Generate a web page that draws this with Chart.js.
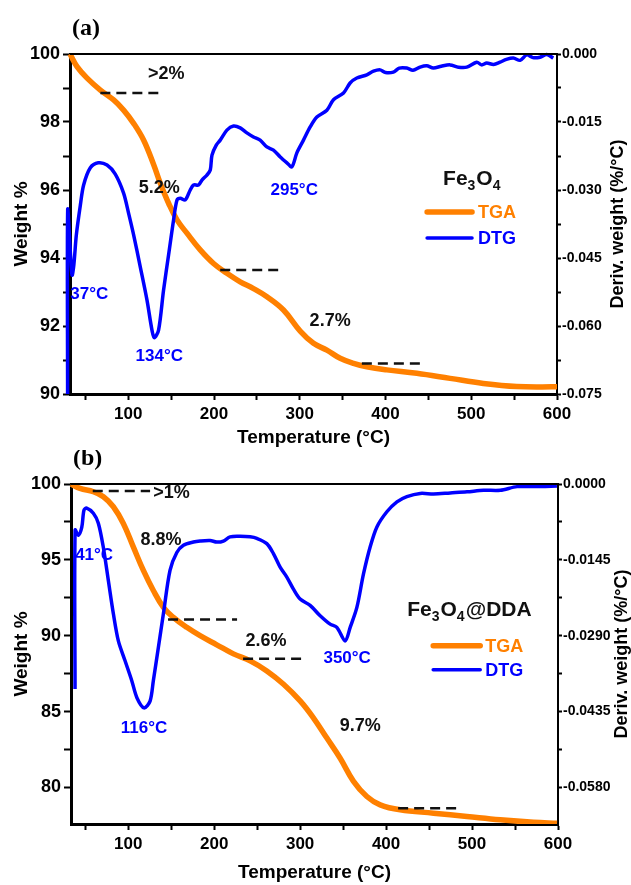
<!DOCTYPE html>
<html>
<head>
<meta charset="utf-8">
<script src="https://cdn.jsdelivr.net/npm/chart.js@4.4.1/dist/chart.umd.min.js"></script>
<style>
  html, body { margin: 0; padding: 0; background: #fff; }
  body { position: relative; width: 631px; height: 885px; overflow: hidden; }
  canvas { position: absolute; left: 0; }
</style>
</head>
<body>
<canvas id="chartA" width="631" height="455" style="top:0;width:631px;height:455px"></canvas>
<canvas id="chartB" width="631" height="435" style="top:450px;width:631px;height:435px"></canvas>
<script>
const ORANGE = '#ff8000'
const BLUE = '#0000ff'
const FONT = "'Liberation Sans', Arial, sans-serif"

// temperature axis, shared by both panels
const tempTicks = [50, 100, 150, 200, 250, 300, 350, 400, 450, 500, 550, 600]
const tempLabels = ['', '100', '', '200', '', '300', '', '400', '', '500', '', '600']

// (a) Fe3O4 : [temperature, weight %] and [temperature, deriv. weight]
const aTGA = [[32, 100], [40.2, 99.63], [51.9, 99.29], [67.4, 98.94], [82.9, 98.65], [94.5, 98.35],
  [106.2, 97.96], [117.8, 97.47], [129.5, 96.75], [137.3, 96.2], [147, 95.61], [156.8, 95.12],
  [168.4, 94.73], [183.9, 94.24], [199.4, 93.84], [215, 93.55], [230.5, 93.3], [246, 93.1],
  [261.7, 92.86], [281, 92.47], [300.5, 91.85], [316, 91.49], [331.6, 91.29], [347.1, 91.05],
  [362.6, 90.9], [378.2, 90.8], [401.5, 90.71], [436.5, 90.61], [475.3, 90.46], [514.1, 90.31],
  [553, 90.22], [600, 90.21]]
const aDTG = [[29.2, -0.075], [29.3, -0.0344], [32.5, -0.044], [34.4, -0.0488], [36.5, -0.0465],
  [39.4, -0.0399], [44.1, -0.0333], [47.9, -0.0289], [55.7, -0.0251], [65, -0.024], [75.2, -0.0245],
  [84.8, -0.0265], [94.5, -0.0307], [100.3, -0.0351], [106.2, -0.0399], [114, -0.047], [121.8, -0.0543],
  [127.6, -0.0609], [130.3, -0.0626], [135.3, -0.0609], [141.1, -0.0521], [147, -0.0443],
  [152.8, -0.0366], [156.8, -0.0322], [160.6, -0.0318], [166.4, -0.0322], [172.2, -0.03],
  [176.1, -0.0289], [181.9, -0.0289], [185.9, -0.0278], [191.7, -0.0267], [195.6, -0.0256],
  [197.6, -0.0223], [202.6, -0.0201], [207.2, -0.019], [215, -0.0168], [222.7, -0.0159],
  [230.5, -0.0163], [238.3, -0.0174], [246, -0.0183], [253.8, -0.019], [261.6, -0.0205],
  [269.3, -0.0212], [277.2, -0.0227], [285, -0.024], [290.8, -0.0249], [296.6, -0.0218],
  [304.3, -0.019], [312.1, -0.0161], [319.9, -0.0139], [331.6, -0.0124], [339.3, -0.0101],
  [351, -0.0086], [358.7, -0.0064], [366.5, -0.0053], [378.2, -0.0046], [386, -0.0038],
  [393.7, -0.0035], [400, -0.0041], [409.2, -0.004], [416, -0.0031], [424.8, -0.0031],
  [432, -0.0036], [440.3, -0.0029], [448, -0.0026], [455.8, -0.0031], [465, -0.0027],
  [475.3, -0.0024], [485, -0.0029], [494.8, -0.0029], [506.4, -0.0018], [512, -0.0024],
  [518, -0.002], [526, -0.0023], [533.6, -0.0018], [541, -0.0012], [549.1, -0.0009],
  [557, -0.0014], [564.7, -0.0002], [572, -0.0008], [580.2, -0.0007], [588, -0.0001], [595.7, -0.0009]]
const aWeightTicks = [90, 91, 92, 93, 94, 95, 96, 97, 98, 99, 100]
const aWeightLabels = ['90', '', '92', '', '94', '', '96', '', '98', '', '100']
const aDerivTicks = [0, -0.0075, -0.015, -0.0225, -0.03, -0.0375, -0.045, -0.0525, -0.06, -0.0675, -0.075]
const aDerivLabels = ['0.000', '', '-0.015', '', '-0.030', '', '-0.045', '', '-0.060', '', '-0.075']
// dashed guides: [from T, to T, weight %]
const aSteps = [[67.4, 135, 98.85], [207.2, 274.8, 93.65], [372.4, 440.3, 90.9]]
const aLosses = [['>2%', 144.3, 99.41], ['5.2%', 136.1, 96.06], ['2.7%', 335.4, 92.15]]
const aPeaks = [['37°C', 54.5, 92.94], ['134°C', 136.1, 91.12], ['295°C', 293.5, 96.0]]

// (b) Fe3O4@DDA
const bTGA = [[33.4, 100], [43.9, 99.71], [59.4, 99.49], [71.1, 99.16], [82.7, 98.5], [94.3, 97.4],
  [105.9, 95.85], [117.6, 94.3], [129.2, 92.98], [140.9, 91.87], [152.5, 91.21], [168.1, 90.55],
  [183.6, 90.0], [203, 89.4], [222.4, 88.8], [241.8, 88.34], [261.2, 87.68], [280.7, 86.8],
  [300, 85.7], [315.6, 84.57], [331.1, 83.25], [346.6, 81.92], [362.1, 80.4], [377.6, 79.4],
  [393.1, 78.85], [416.4, 78.52], [455.2, 78.3], [494, 78.08], [532.8, 77.86], [571.6, 77.7], [598.9, 77.64]]
const bDTG = [[38.1, -0.0392], [38.2, -0.0088], [41.9, -0.0098], [45.9, -0.0083], [48.5, -0.005],
  [51.7, -0.0046], [59.4, -0.0056], [65.2, -0.0075], [71, -0.0121], [76.8, -0.0184], [82.7, -0.0248],
  [88.5, -0.03], [96.3, -0.0338], [104.1, -0.0376], [110.2, -0.0409], [118.4, -0.0428],
  [125.4, -0.0415], [129.2, -0.0376], [135, -0.0313], [140.9, -0.0248], [148.6, -0.0165],
  [156.5, -0.0131], [164.2, -0.0117], [175.8, -0.0111], [183.6, -0.0109], [195.2, -0.0108],
  [203, -0.0111], [210.7, -0.0109], [218.5, -0.0101], [230.2, -0.01], [241.8, -0.0101],
  [249.6, -0.0104], [261.2, -0.0114], [268.9, -0.0133], [276.7, -0.0159], [284.5, -0.0178],
  [292.2, -0.0201], [300, -0.022], [311.6, -0.0232], [323.3, -0.0252], [334.9, -0.0268],
  [342.7, -0.0274], [352.4, -0.03], [358.2, -0.0274], [366, -0.0236], [373.7, -0.0172],
  [381.5, -0.012], [389.3, -0.0082], [400.9, -0.0053], [412.6, -0.0034], [424.2, -0.0024],
  [439.7, -0.0018], [455.2, -0.0019], [474.6, -0.0017], [494.1, -0.0015], [513.4, -0.0012],
  [532.8, -0.0012], [552.3, -0.0005], [571.6, -0.0005], [598.8, -0.0004]]
const bWeightTicks = [80, 82.5, 85, 87.5, 90, 92.5, 95, 97.5, 100]
const bWeightLabels = ['80', '', '85', '', '90', '', '95', '', '100']
const bDerivTicks = [0, -0.00725, -0.0145, -0.02175, -0.029, -0.03625, -0.0435, -0.05075, -0.058]
const bDerivLabels = ['0.0000', '', '-0.0145', '', '-0.0290', '', '-0.0435', '', '-0.0580']
const bSteps = [[58.7, 125.4, 99.54], [146.3, 226.6, 91.06], [233.6, 302.3, 88.48], [414, 484, 78.63]]
const bLosses = [['>1%', 150.4, 99.4], ['8.8%', 138.2, 96.29], ['2.6%', 260.4, 89.67], ['9.7%', 369.9, 84.04]]
const bPeaks = [['41°C', 60.3, 95.3], ['116°C', 118.4, 83.91], ['350°C', 354.7, 88.48]]

const sketch = {
  id: 'sketch',
  afterDatasetsDraw (chart, args, o) {
    const { ctx, chartArea: area, scales: { x, y } } = chart
    const px = t => x.getPixelForValue(t)
    const py = w => y.getPixelForValue(w)
    ctx.save()
    ctx.strokeStyle = '#000'
    ctx.lineWidth = 2
    ctx.beginPath()
    ctx.moveTo(area.left, area.top)
    ctx.lineTo(area.right + 1, area.top)
    ctx.stroke()
    // dashed guides
    ctx.setLineDash([10, 6])
    ctx.lineWidth = 2.5
    ctx.strokeStyle = '#111'
    for (const [t0, t1, w] of o.steps) {
      ctx.beginPath()
      ctx.moveTo(px(t0), py(w))
      ctx.lineTo(px(t1), py(w))
      ctx.stroke()
    }
    ctx.setLineDash([])
    ctx.textAlign = 'center'
    ctx.textBaseline = 'middle'
    ctx.fillStyle = '#111'
    ctx.font = `bold 18px ${FONT}`
    for (const [txt, t, w] of o.losses) ctx.fillText(txt, px(t), py(w))
    ctx.fillStyle = BLUE
    ctx.font = `bold 17px ${FONT}`
    for (const [txt, t, w] of o.peaks) ctx.fillText(txt, px(t), py(w))
    // sample name with subscripts
    ctx.textAlign = 'left'
    ctx.fillStyle = '#111'
    let cx = px(o.name.t)
    const cy = py(o.name.w)
    for (const [txt, sub] of o.name.parts) {
      ctx.font = sub ? `bold 14px ${FONT}` : `bold 21px ${FONT}`
      ctx.fillText(txt, cx, cy + (sub ? 7 : 0))
      cx += ctx.measureText(txt).width + (sub ? 1 : 0)
    }
    // legend
    const lg = o.legend
    const rows = [['TGA', ORANGE, 5.5, lg.w[0]], ['DTG', BLUE, 3.5, lg.w[1]]]
    for (const [txt, col, lw, w] of rows) {
      ctx.strokeStyle = col
      ctx.lineWidth = lw
      ctx.lineCap = 'round'
      ctx.beginPath()
      ctx.moveTo(px(lg.t0), py(w))
      ctx.lineTo(px(lg.t1), py(w))
      ctx.stroke()
      ctx.fillStyle = col
      ctx.font = `bold 18px ${FONT}`
      ctx.fillText(txt, px(lg.tText), py(w) + 1)
    }
    // panel tag
    ctx.fillStyle = '#000'
    ctx.font = "bold 24px 'Liberation Serif', 'Times New Roman', serif"
    ctx.fillText(o.tag, area.left + 2, area.top - 25)
    // right axis title, reading upwards
    ctx.translate(area.right + o.titleGap, (area.top + area.bottom) / 2)
    ctx.rotate(-Math.PI / 2)
    ctx.textAlign = 'center'
    ctx.font = `bold 18px ${FONT}`
    ctx.fillText('Deriv. weight (%/°C)', 0, 0)
    ctx.restore()
  }
}

function makeChart (canvas, p) {
  const tickFont = size => ({ family: FONT, size: size, weight: 'bold' })
  const grid = { drawOnChartArea: false, drawTicks: true, tickLength: 6, tickWidth: 2, tickColor: '#000' }
  return new Chart(canvas, {
    type: 'line',
    data: {
      datasets: [
        { label: 'DTG', data: p.dtg.map(([x, y]) => ({ x, y })), yAxisID: 'y2', order: 0,
          borderColor: BLUE, borderWidth: 3.5, pointRadius: 0, tension: 0.3, clip: false },
        { label: 'TGA', data: p.tga.map(([x, y]) => ({ x, y })), yAxisID: 'y', order: 1,
          borderColor: ORANGE, borderWidth: 5.5, pointRadius: 0, tension: 0.4 }
      ]
    },
    options: {
      responsive: false,
      animation: false,
      events: [],
      layout: { padding: { top: p.top, left: 0, right: 0, bottom: 0 } },
      plugins: { legend: { display: false }, tooltip: { enabled: false }, sketch: p.notes },
      scales: {
        x: {
          type: 'linear', bounds: 'data',
          // range set here (not via min) so the DTG start just left of the axis is still drawn
          afterDataLimits: s => { s.min = p.xMin; s.max = 600 },
          afterBuildTicks: s => { s.ticks = tempTicks.map(v => ({ value: v })) },
          afterFit: s => { s.height = 61 },
          ticks: { callback: (v, i) => tempLabels[i], autoSkip: false, maxRotation: 0, padding: 4,
            color: '#000', font: tickFont(17) },
          grid: grid,
          border: { display: true, color: '#000', width: 3 },
          title: { display: true, text: 'Temperature (°C)', color: '#000',
            font: { family: FONT, size: 19, weight: 'bold', lineHeight: 1 },
            padding: { top: 0, bottom: p.titlePad } }
        },
        y: {
          type: 'linear', position: 'left', bounds: 'data', min: p.wMin, max: 100,
          afterBuildTicks: s => { s.ticks = p.wTicks.map(v => ({ value: v })) },
          afterFit: s => { s.width = p.left },
          ticks: { callback: (v, i) => p.wLabels[i], autoSkip: false, padding: 3,
            color: '#000', font: tickFont(18) },
          grid: { ...grid, tickLength: 7 },
          border: { display: true, color: '#000', width: 3 },
          title: { display: true, text: 'Weight %', color: '#000',
            font: { family: FONT, size: 19, weight: 'bold', lineHeight: 1 },
            padding: { top: 12.5, bottom: 0 } }
        },
        y2: {
          type: 'linear', position: 'right', bounds: 'data', min: p.dMin, max: 0,
          afterBuildTicks: s => { s.ticks = p.dTicks.map(v => ({ value: v })) },
          afterFit: s => { s.width = 631 - p.right },
          ticks: { callback: (v, i) => p.dLabels[i], autoSkip: false, padding: 1,
            color: '#000', font: tickFont(14) },
          grid: { ...grid, tickLength: 4 },
          border: { display: true, color: '#000', width: 2 }
        }
      }
    },
    plugins: [sketch]
  })
}

makeChart(document.getElementById('chartA'), {
  tga: aTGA, dtg: aDTG, xMin: 32, wMin: 90, dMin: -0.075,
  wTicks: aWeightTicks, wLabels: aWeightLabels, dTicks: aDerivTicks, dLabels: aDerivLabels,
  top: 54, left: 70, right: 557, titlePad: 7.5,
  notes: {
    tag: '(a)', steps: aSteps, losses: aLosses, peaks: aPeaks, titleGap: 61,
    name: { t: 467.1, w: 96.32, parts: [['Fe', 0], ['3', 1], ['O', 0], ['4', 1]] },
    legend: { t0: 448.5, t1: 500.9, tText: 507.9, w: [95.35, 94.59] }
  }
})

makeChart(document.getElementById('chartB'), {
  tga: bTGA, dtg: bDTG, xMin: 33.4, wMin: 77.586, dMin: -0.065,
  wTicks: bWeightTicks, wLabels: bWeightLabels, dTicks: bDerivTicks, dLabels: bDerivLabels,
  top: 34, left: 71, right: 558, titlePad: 2.5,
  notes: {
    tag: '(b)', steps: bSteps, losses: bLosses, peaks: bPeaks, titleGap: 64,
    name: { t: 424.6, w: 91.66, parts: [['Fe', 0], ['3', 1], ['O', 0], ['4', 1], ['@DDA', 0]] },
    legend: { t0: 454.8, t1: 509.5, tText: 515.4, w: [89.34, 87.75] }
  }
})
</script>
</body>
</html>
